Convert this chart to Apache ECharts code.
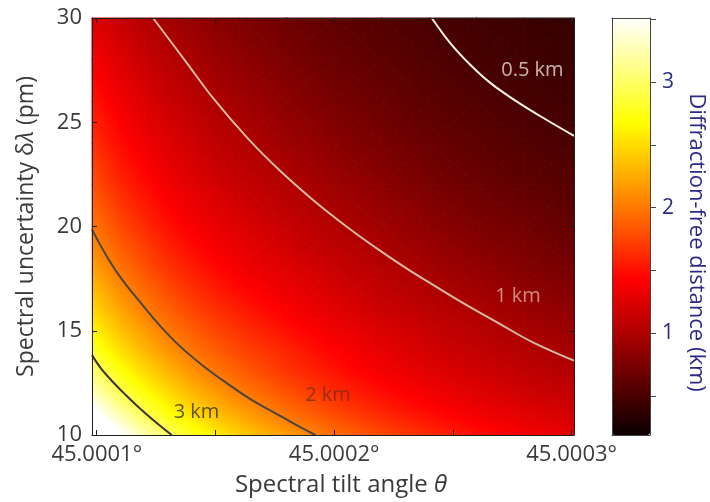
<!DOCTYPE html>
<html>
<head>
<meta charset="utf-8">
<script src="https://cdn.jsdelivr.net/npm/echarts@6/dist/echarts.min.js"></script>
<style>
  html, body { margin: 0; padding: 0; background: #ffffff; }
  #chart { width: 710px; height: 502px; }
</style>
</head>
<body>
<div id="chart"></div>
<script>
// Tilt angle offset from 45°, in units of 1e-4 degree (grid columns)
const tiltOffsets = [0.98, 1.1, 1.2, 1.3, 1.4, 1.5, 1.6, 1.8, 2.0, 2.2, 2.4, 2.6, 2.8, 3.01];
// Spectral uncertainty δλ in pm (grid rows)
const spectralWidths = [10, 11, 12, 13, 14, 15, 16, 18, 20, 22, 24, 26, 28, 30];
// Diffraction-free distance (km); one row per spectral width, one column per tilt offset
const distanceRows = [
  [3.98, 3.55, 3.25, 3.00, 2.79, 2.60, 2.44, 2.17, 1.95, 1.77, 1.63, 1.50, 1.39, 1.30],
  [3.62, 3.22, 2.95, 2.73, 2.53, 2.36, 2.22, 1.97, 1.77, 1.61, 1.48, 1.37, 1.28, 1.19],
  [3.32, 2.95, 2.71, 2.50, 2.32, 2.17, 2.03, 1.81, 1.63, 1.49, 1.37, 1.27, 1.18, 1.10],
  [3.06, 2.73, 2.50, 2.31, 2.14, 2.00, 1.88, 1.68, 1.52, 1.39, 1.28, 1.18, 1.10, 1.03],
  [2.84, 2.53, 2.32, 2.14, 1.99, 1.87, 1.76, 1.60, 1.44, 1.31, 1.20, 1.11, 1.03, 0.96],
  [2.65, 2.36, 2.17, 2.00, 1.87, 1.75, 1.66, 1.50, 1.36, 1.24, 1.14, 1.05, 0.97, 0.90],
  [2.49, 2.22, 2.03, 1.88, 1.75, 1.65, 1.56, 1.41, 1.28, 1.16, 1.07, 0.99, 0.91, 0.84],
  [2.21, 1.97, 1.81, 1.67, 1.56, 1.46, 1.38, 1.26, 1.14, 1.04, 0.95, 0.87, 0.79, 0.72],
  [1.99, 1.77, 1.63, 1.50, 1.40, 1.32, 1.25, 1.13, 1.02, 0.93, 0.84, 0.76, 0.70, 0.63],
  [1.81, 1.61, 1.48, 1.37, 1.28, 1.20, 1.13, 1.02, 0.92, 0.83, 0.74, 0.67, 0.61, 0.56],
  [1.66, 1.48, 1.36, 1.26, 1.17, 1.09, 1.03, 0.92, 0.82, 0.74, 0.66, 0.60, 0.55, 0.50],
  [1.53, 1.36, 1.25, 1.15, 1.07, 1.00, 0.94, 0.83, 0.74, 0.66, 0.59, 0.54, 0.49, 0.46],
  [1.40, 1.25, 1.14, 1.05, 0.98, 0.91, 0.85, 0.75, 0.66, 0.60, 0.54, 0.49, 0.46, 0.42],
  [1.26, 1.12, 1.03, 0.95, 0.88, 0.82, 0.77, 0.68, 0.61, 0.55, 0.50, 0.46, 0.43, 0.40]
];

// Iso-distance contours: [tilt offset, δλ] points along each level
const contourLevels = [0.5, 1, 2, 3];
const contour05 = [[2.411, 30], [2.488, 28.81], [2.572, 27.77], [2.656, 26.90], [2.755, 26.10], [2.867, 25.30], [3.01, 24.35]];
const contour1 = [[1.237, 30], [1.379, 27.85], [1.491, 26.14], [1.638, 24.20], [1.772, 22.67], [1.912, 21.26],
                  [2.053, 19.99], [2.193, 18.84], [2.319, 17.88], [2.418, 17.19], [2.558, 16.23], [2.699, 15.32],
                  [2.839, 14.43], [3.01, 13.57]];
const contour2 = [[0.98, 19.85], [1.05, 18.42], [1.11, 17.40], [1.182, 16.38], [1.26, 15.32], [1.351, 14.25],
                  [1.45, 13.30], [1.561, 12.38], [1.65, 11.70], [1.744, 11.10], [1.83, 10.55], [1.921, 10]];
const contour3 = [[0.98, 13.83], [1.02, 13.16], [1.07, 12.52], [1.12, 11.94], [1.168, 11.42], [1.24, 10.70], [1.316, 10]];
// Where each contour's label sits, [tilt offset, δλ]
const contourLabelAt = [[2.835, 27.51], [2.774, 16.65], [1.974, 11.89], [1.420, 11.10]];

// Axis ticks
const xTickValues = [1, 1.5, 2, 2.5, 3];
const xLabelValues = [1, 2, 3];
const xTickLabels = ['45.0001°', '45.0002°', '45.0003°'];
const yTickInterval = 5;
const colorbarRange = [0.19, 3.51];
const colorbarTicks = [0.5, 1, 1.5, 2, 2.5, 3, 3.5];
const colorbarLabels = [1, 2, 3];

// "hot" colormap: black -> red -> yellow -> white
const hotColors = ['#0b0000', '#5e0000', '#b20000', '#ff0000', '#ff5a00', '#ffae00', '#ffff00', '#ffff82', '#ffffff'];

const FONT = '"Open Sans", "Noto Sans", sans-serif';
const AXIS_TEXT = '#3a3a3a';
const BAR_TEXT = '#2b2b85';
const FRAME = '#1e1e1e';

function hexToRgb(h) {
  return [parseInt(h.slice(1, 3), 16), parseInt(h.slice(3, 5), 16), parseInt(h.slice(5, 7), 16)];
}
const hotRgb = hotColors.map(hexToRgb);

function colorOf(v) {
  let f = (v - colorbarRange[0]) / (colorbarRange[1] - colorbarRange[0]);
  f = Math.max(0, Math.min(1, f));
  const pos = f * (hotRgb.length - 1);
  const k = Math.min(hotRgb.length - 2, Math.floor(pos));
  const t = pos - k;
  const a = hotRgb[k], b = hotRgb[k + 1];
  const c = a.map((ch, n) => Math.round(ch + (b[n] - ch) * t));
  return 'rgb(' + c.join(',') + ')';
}

// One triangle with the distance varying linearly across it, painted as a
// gradient along the direction in which the value changes.
function shadedTriangle(A, B, C, va, vb, vc) {
  const vmin = Math.min(va, vb, vc), vmax = Math.max(va, vb, vc);
  let fill;
  const e1x = B[0] - A[0], e1y = B[1] - A[1];
  const e2x = C[0] - A[0], e2y = C[1] - A[1];
  const det = e1x * e2y - e1y * e2x;
  if (vmax - vmin < 1e-6 || Math.abs(det) < 1e-9) {
    fill = colorOf((va + vb + vc) / 3);
  } else {
    const d1 = vb - va, d2 = vc - va;
    const gx = (d1 * e2y - d2 * e1y) / det;
    const gy = (e1x * d2 - e2x * d1) / det;
    const g2 = gx * gx + gy * gy;
    const s = (vmin - va) / g2, e = (vmax - va) / g2;
    const stops = [];
    const n = 8;
    for (let k = 0; k <= n; k++) {
      stops.push({ offset: k / n, color: colorOf(vmin + (vmax - vmin) * k / n) });
    }
    fill = {
      type: 'linear', global: true,
      x: A[0] + gx * s, y: A[1] + gy * s,
      x2: A[0] + gx * e, y2: A[1] + gy * e,
      colorStops: stops
    };
  }
  return {
    type: 'polygon',
    shape: { points: [A, B, C] },
    style: { fill: fill, stroke: fill, lineWidth: 1 },
    silent: true
  };
}

// Each cell is split into four triangles around its centre.
function renderCell(params, api) {
  const x0 = api.value(0), y0 = api.value(1), x1 = api.value(2), y1 = api.value(3);
  const v00 = api.value(4), v10 = api.value(5), v01 = api.value(6), v11 = api.value(7);
  const vc = (v00 + v10 + v01 + v11) / 4;
  const p00 = api.coord([x0, y0]), p10 = api.coord([x1, y0]);
  const p01 = api.coord([x0, y1]), p11 = api.coord([x1, y1]);
  const pc = api.coord([(x0 + x1) / 2, (y0 + y1) / 2]);
  return {
    type: 'group',
    children: [
      shadedTriangle(p00, p10, pc, v00, v10, vc),
      shadedTriangle(p10, p11, pc, v10, v11, vc),
      shadedTriangle(p11, p01, pc, v11, v01, vc),
      shadedTriangle(p01, p00, pc, v01, v00, vc)
    ]
  };
}

// Cells of the distance map built from the row/column values
const cells = [];
for (let j = 0; j + 1 < spectralWidths.length; j++) {
  for (let i = 0; i + 1 < tiltOffsets.length; i++) {
    cells.push([
      tiltOffsets[i], spectralWidths[j], tiltOffsets[i + 1], spectralWidths[j + 1],
      distanceRows[j][i], distanceRows[j][i + 1], distanceRows[j + 1][i], distanceRows[j + 1][i + 1]
    ]);
  }
}

const contourStyles = [
  { line: '#fbf4e4', text: '#ecdcd6' },
  { line: '#d2baa2', text: '#dcaca4' },
  { line: '#4c4545', text: '#7a2c1a' },
  { line: '#3a3535', text: '#3a3000' }
];
const contourData = [contour05, contour1, contour2, contour3];

const chart = echarts.init(document.getElementById('chart'), null, { renderer: 'canvas' });

const mainXRange = { min: 0.98, max: 3.01 };
const series = [
  {
    type: 'custom',
    xAxisIndex: 0, yAxisIndex: 0,
    renderItem: renderCell,
    data: cells,
    encode: { x: [0, 2], y: [1, 3] },
    silent: true,
    animation: false,
    z: 1
  }
];
contourData.forEach((pts, k) => {
  series.push({
    type: 'line',
    xAxisIndex: 0, yAxisIndex: 0,
    data: pts,
    smooth: 0.4,
    showSymbol: false,
    symbol: 'none',
    lineStyle: { color: contourStyles[k].line, width: 2 },
    silent: true,
    animation: false,
    z: 3
  });
});
series.push({
  type: 'scatter',
  xAxisIndex: 0, yAxisIndex: 0,
  symbolSize: 1,
  itemStyle: { color: 'rgba(0,0,0,0)' },
  data: contourLabelAt.map((p, k) => ({
    value: p,
    label: { color: contourStyles[k].text, formatter: contourLevels[k] + ' km' }
  })),
  label: { show: true, position: 'inside', fontSize: 20, fontFamily: FONT },
  silent: true,
  animation: false,
  z: 4
});

chart.setOption({
  animation: false,
  backgroundColor: '#ffffff',
  textStyle: { fontFamily: FONT },
  grid: [
    { left: 92, top: 18, width: 482, height: 418 },
    { left: 612, top: 18, width: 38, height: 417 }
  ],
  visualMap: {
    type: 'continuous',
    seriesIndex: 0,
    dimension: 4,
    min: colorbarRange[0],
    max: colorbarRange[1],
    calculable: false,
    orient: 'vertical',
    left: 612,
    top: 18,
    padding: 0,
    itemWidth: 38,
    itemHeight: 417,
    text: null,
    showLabel: false,
    inRange: { color: hotColors }
  },
  xAxis: [
    {
      gridIndex: 0, type: 'value', position: 'bottom',
      min: mainXRange.min, max: mainXRange.max,
      axisLine: { show: true, onZero: false, lineStyle: { color: FRAME, width: 1 } },
      axisTick: { show: true, inside: true, length: 5, customValues: xTickValues, lineStyle: { color: FRAME } },
      axisLabel: {
        show: true, customValues: xLabelValues, margin: 9,
        formatter: (v) => xTickLabels[xLabelValues.indexOf(v)],
        color: AXIS_TEXT, fontSize: 22, fontFamily: FONT
      },
      splitLine: { show: false },
      name: 'Spectral tilt angle {i|θ}',
      nameLocation: 'middle',
      nameGap: 38,
      nameTextStyle: {
        color: AXIS_TEXT, fontSize: 24, fontFamily: FONT, padding: [0, 0, 0, 16],
        rich: { i: { fontStyle: 'italic', fontSize: 24, color: AXIS_TEXT, fontFamily: FONT } }
      },
      z: 5
    },
    {
      gridIndex: 0, type: 'value', position: 'top',
      min: mainXRange.min, max: mainXRange.max,
      axisLine: { show: true, onZero: false, lineStyle: { color: FRAME, width: 1 } },
      axisTick: { show: true, inside: true, length: 5, customValues: xTickValues, lineStyle: { color: FRAME } },
      axisLabel: { show: false },
      splitLine: { show: false },
      z: 5
    },
    {
      gridIndex: 1, type: 'value', position: 'bottom', min: 0, max: 1,
      axisLine: { show: true, onZero: false, lineStyle: { color: '#444', width: 1 } },
      axisTick: { show: false }, axisLabel: { show: false }, splitLine: { show: false },
      z: 10
    },
    {
      gridIndex: 1, type: 'value', position: 'top', min: 0, max: 1,
      axisLine: { show: true, onZero: false, lineStyle: { color: '#444', width: 1 } },
      axisTick: { show: false }, axisLabel: { show: false }, splitLine: { show: false },
      z: 10
    }
  ],
  yAxis: [
    {
      gridIndex: 0, type: 'value', position: 'left',
      min: 10, max: 30, interval: yTickInterval,
      axisLine: { show: true, onZero: false, lineStyle: { color: FRAME, width: 1 } },
      axisTick: { show: true, inside: true, length: 5, lineStyle: { color: FRAME } },
      axisLabel: { show: true, margin: 10, color: AXIS_TEXT, fontSize: 22, fontFamily: FONT },
      splitLine: { show: false },
      name: 'Spectral uncertainty δ{i|λ} (pm)',
      nameLocation: 'middle',
      nameGap: 54,
      nameTextStyle: {
        color: AXIS_TEXT, fontSize: 23, fontFamily: FONT,
        rich: { i: { fontStyle: 'italic', fontSize: 23, color: AXIS_TEXT, fontFamily: FONT } }
      },
      z: 5
    },
    {
      gridIndex: 0, type: 'value', position: 'right',
      min: 10, max: 30, interval: yTickInterval,
      axisLine: { show: true, onZero: false, lineStyle: { color: FRAME, width: 1 } },
      axisTick: { show: true, inside: true, length: 5, lineStyle: { color: FRAME } },
      axisLabel: { show: false },
      splitLine: { show: false },
      z: 5
    },
    {
      gridIndex: 1, type: 'value', position: 'right',
      min: colorbarRange[0], max: colorbarRange[1],
      axisLine: { show: true, onZero: false, lineStyle: { color: '#444', width: 1 } },
      axisTick: { show: true, inside: false, length: 6, customValues: colorbarTicks, lineStyle: { color: '#444' } },
      axisLabel: { show: true, customValues: colorbarLabels, margin: 12, color: BAR_TEXT, fontSize: 21, fontFamily: FONT },
      splitLine: { show: false },
      name: 'Diffraction-free distance (km)',
      nameLocation: 'middle',
      nameRotate: -90,
      nameGap: 35,
      nameTextStyle: { color: BAR_TEXT, fontSize: 22, fontFamily: FONT, padding: [0, 0, 0, 32] },
      z: 10
    },
    {
      gridIndex: 1, type: 'value', position: 'left',
      min: colorbarRange[0], max: colorbarRange[1],
      axisLine: { show: true, onZero: false, lineStyle: { color: '#444', width: 1 } },
      axisTick: { show: false }, axisLabel: { show: false }, splitLine: { show: false },
      z: 10
    }
  ],
  series: series
});
</script>
</body>
</html>
